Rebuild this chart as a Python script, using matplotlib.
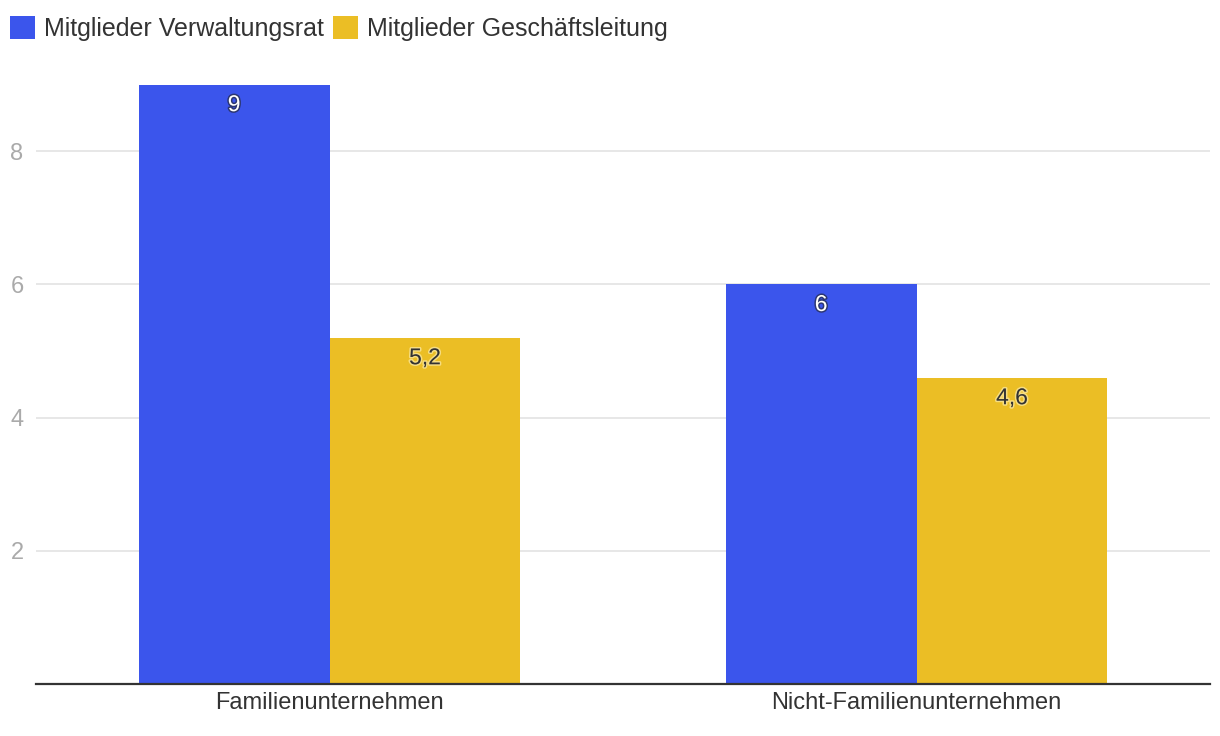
import matplotlib.pyplot as plt
import matplotlib.patheffects as pe
from matplotlib.patches import Patch
import numpy as np

plt.rcParams['font.family'] = ['Liberation Sans', 'DejaVu Sans']

categories = ['Familienunternehmen', 'Nicht-Familienunternehmen']
series_names = ['Mitglieder Verwaltungsrat', 'Mitglieder Geschäftsleitung']
verwaltungsrat = [9, 6]
geschaeftsleitung = [5.2, 4.6]
yticks = [2, 4, 6, 8]

colors = ['#3b55ec', '#ebbe25']
text_colors = ['white', '#333333']
stroke_colors = ['#222222', '#fff3c0']

fig = plt.figure(figsize=(12.2, 7.36), dpi=100)
ax = fig.add_axes([36 / 1220, 1 - 684 / 736, 1174 / 1220, (684 - 84.5) / 736])

x = np.arange(len(categories))
w = 0.325
for i, vals in enumerate([verwaltungsrat, geschaeftsleitung]):
    off = (i - 0.5) * w
    bars = ax.bar(x + off, vals, width=w, color=colors[i], zorder=2)
    for b, v in zip(bars, vals):
        lab = str(v).replace('.', ',')
        ax.annotate(lab, (b.get_x() + b.get_width() / 2, v),
                    xytext=(0, -14.5), textcoords='offset points',
                    ha='center', va='center', fontsize=16.5,
                    color=text_colors[i], zorder=3,
                    path_effects=[pe.withStroke(linewidth=2.2, foreground=stroke_colors[i], alpha=0.6)])

ax.set_xlim(-0.5, 1.5)
ax.set_ylim(0, 9)
ax.set_yticks(yticks)
ax.set_yticklabels([str(t) for t in yticks])
ax.set_xticks(x)
ax.set_xticklabels(categories)
ax.grid(axis='y', color='#e3e3e3', linewidth=1.2, zorder=0)
ax.tick_params(axis='y', length=0, pad=9, labelsize=17, labelcolor='#aaaaaa')
ax.tick_params(axis='x', length=0, pad=6, labelsize=17, labelcolor='#333333')
for s in ['top', 'right', 'left']:
    ax.spines[s].set_visible(False)
ax.spines['bottom'].set_color('#333333')
ax.spines['bottom'].set_linewidth(1.6)
ax.spines['bottom'].set_zorder(4)

handles = [Patch(facecolor=c, edgecolor='none') for c in colors]
fig.legend(handles, series_names, loc='upper left', bbox_to_anchor=(0.0, 0.9925),
           ncol=2, frameon=False, fontsize=18, handlelength=1.0, handleheight=1.05,
           handletextpad=0.36, columnspacing=0.36, labelcolor='#333333',
           borderaxespad=0.0, borderpad=0.4)

fig.savefig('out.png', dpi=100)
